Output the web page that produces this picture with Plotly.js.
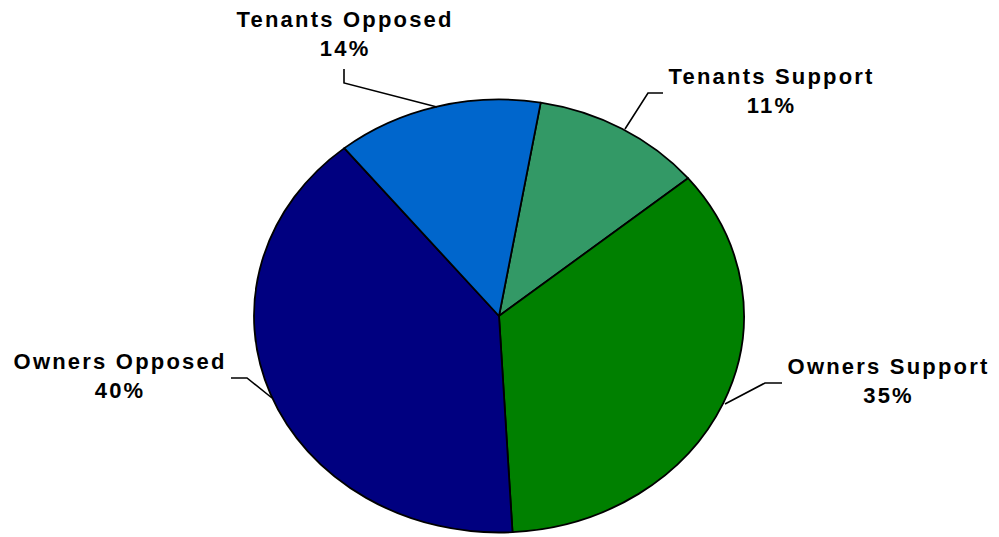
<!DOCTYPE html>
<html>
<head>
<meta charset="utf-8">
<script src="https://cdn.plot.ly/plotly-3.0.1.min.js"></script>
<style>
  html, body { margin: 0; padding: 0; background: #ffffff; }
  #chart { width: 999px; height: 537px; }
  #chart .annotation-text { letter-spacing: 2.2px; }
</style>
</head>
<body>
<div id="chart"></div>
<script>
// ---- data ----
const categories = ["Tenants Support", "Owners Support", "Owners Opposed", "Tenants Opposed"];
const shares = [11.3, 35.1, 40.0, 13.6];
const sliceColors = ["#339966", "#008000", "#000080", "#0066CC"];

// ---- layout helpers (pixel -> paper) ----
const W = 999, H = 537;
const px = x => x / W;
const py = y => 1 - y / H;

const total = shares.reduce((a, b) => a + b, 0);
const pctText = shares.map(v => Math.round(v / total * 100) + "%");

// label anchor positions (pixels) in category order
const labelPos = [
  [772, 91],   // Tenants Support
  [889, 381],  // Owners Support
  [120, 376],  // Owners Opposed
  [345, 34]    // Tenants Opposed
];
// leader lines (pixels) in category order
const leaders = [
  [[663, 93], [648, 93], [625, 129]],
  [[782, 383], [765, 383], [725, 404]],
  [[231, 378], [247, 378], [272, 398]],
  [[344, 69], [344, 83], [437, 107]]
];

// ellipse geometry of the pie (pixels)
const cx = 499, cy = 316, rx = 245, ry = 216.5;

const trace = {
  type: "pie",
  labels: categories,
  values: shares,
  sort: false,
  direction: "clockwise",
  rotation: 9.8,
  textinfo: "none",
  hoverinfo: "none",
  showlegend: false,
  marker: { colors: sliceColors, line: { color: "#000000", width: 1.8 } },
  domain: { x: [px(cx - ry), px(cx + ry)], y: [py(cy + ry), py(cy - ry)] }
};

const annotations = categories.map((c, i) => ({
  xref: "paper", yref: "paper",
  x: px(labelPos[i][0]), y: py(labelPos[i][1]),
  xanchor: "center", yanchor: "middle",
  text: c + "<br>" + pctText[i],
  showarrow: false,
  align: "center",
  font: { family: "Liberation Sans, Arial, sans-serif", size: 22, color: "#000000", weight: 700 }
}));

const shapes = leaders.map(pts => ({
  type: "path",
  xref: "paper", yref: "paper",
  path: "M " + pts.map(p => px(p[0]) + "," + py(p[1])).join(" L "),
  line: { color: "#000000", width: 1.6 }
}));

const layout = {
  width: W, height: H,
  margin: { l: 0, r: 0, t: 0, b: 0 },
  paper_bgcolor: "#ffffff",
  plot_bgcolor: "#ffffff",
  annotations: annotations,
  shapes: shapes
};

const gd = document.getElementById("chart");
Plotly.newPlot(gd, [trace], layout, { staticPlot: true, displayModeBar: false }).then(() => {
  // stretch the circular pie horizontally into the reference's ellipse
  const cd0 = gd.calcdata[0][0];
  const k = rx / cd0.r;
  const pieLayer = gd.querySelector(".pielayer");
  if (pieLayer) {
    pieLayer.setAttribute("transform", "translate(" + (cd0.cx * (1 - k)) + ",0) scale(" + k + ",1)");
    pieLayer.querySelectorAll("path").forEach(p => p.setAttribute("vector-effect", "non-scaling-stroke"));
  }
});
</script>
</body>
</html>
